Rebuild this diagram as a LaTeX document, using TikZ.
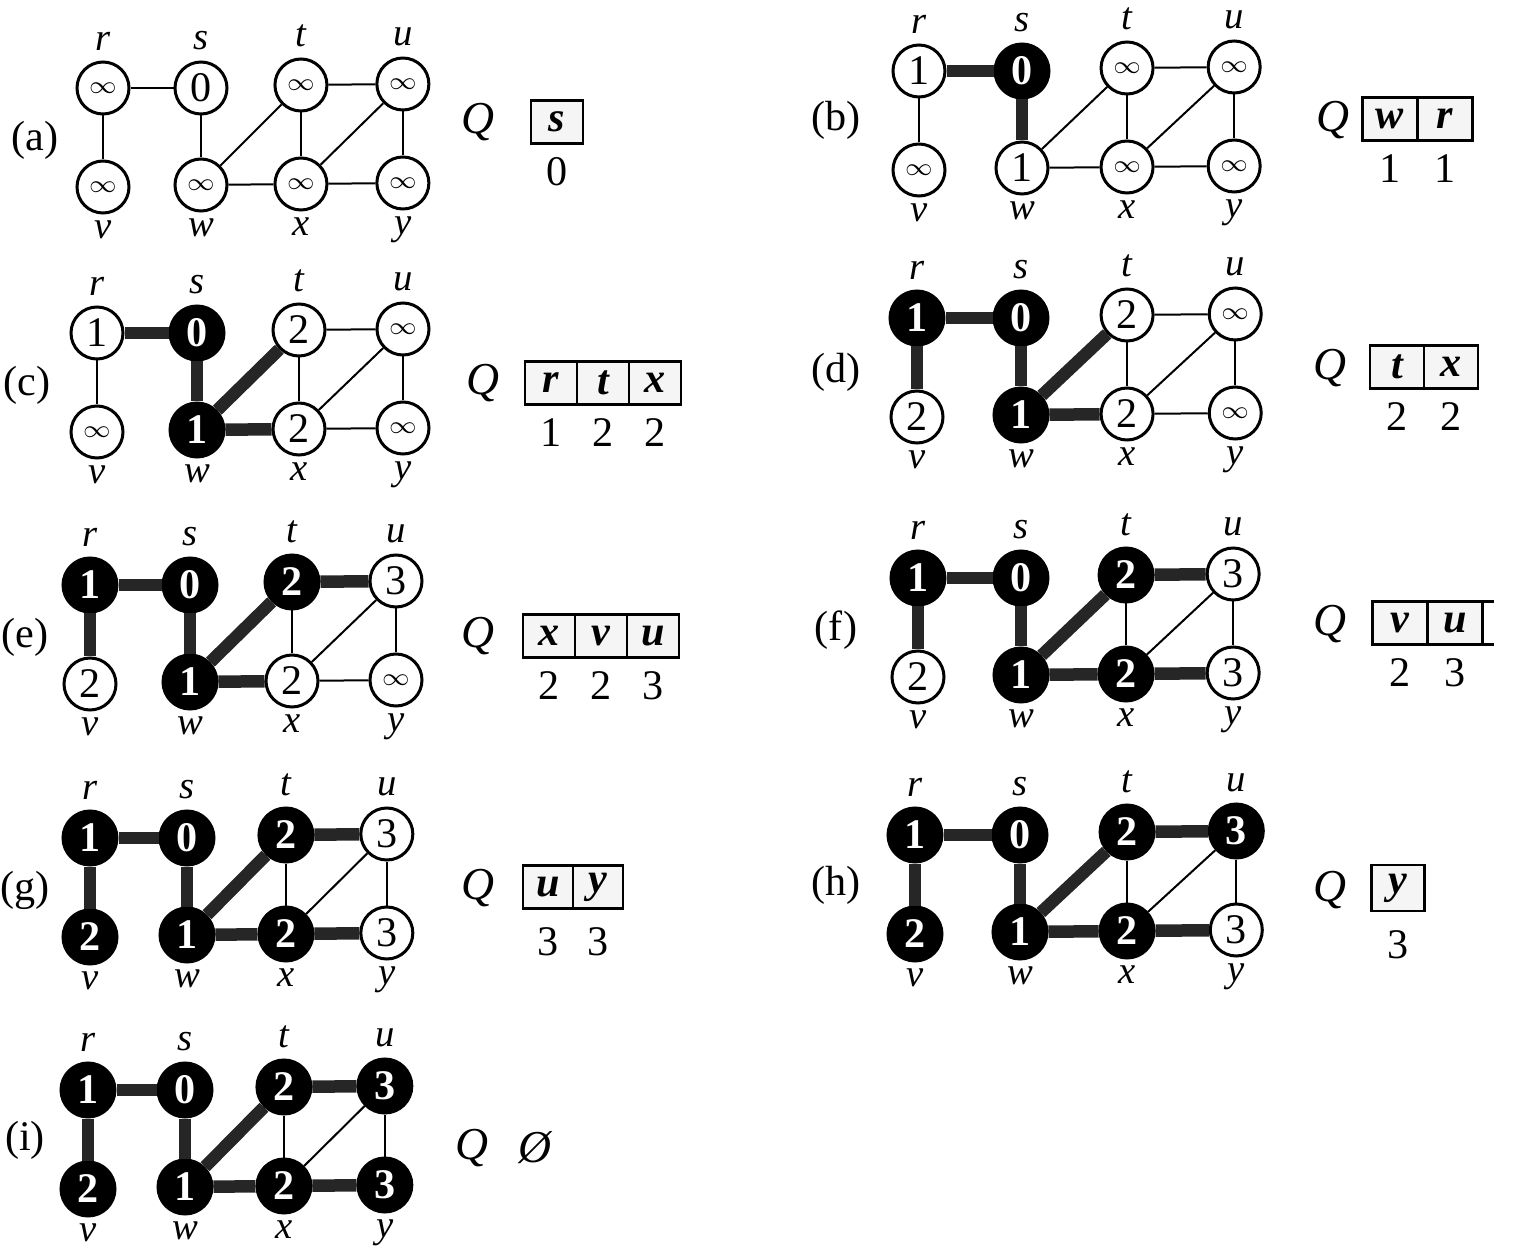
\documentclass[tikz,border=0pt]{standalone}
\usepackage{fontspec}
\setmainfont{Liberation Serif}
\usetikzlibrary{positioning}

\tikzset{
  vtx/.style={circle,draw,line width=0.3mm,minimum size=5.2mm,inner sep=0pt,
    font=\fontsize{12}{12}\selectfont},
  wv/.style={vtx,fill=white},
  bv/.style={vtx,fill=black,text=white,line width=0.5mm,font=\fontsize{12}{12}\selectfont\bfseries},
  edge/.style={line width=0.2mm},
  tree/.style={line width=1.25mm,black!85},
  lbl/.style={font=\fontsize{11}{11}\selectfont\itshape,inner sep=1pt},
  qcell/.style={draw,line width=0.25mm,fill=gray!8,minimum width=5.2mm,minimum height=4.3mm,
    inner sep=0pt,outer sep=0pt,font=\fontsize{12}{12}\selectfont\bfseries\itshape},
  qdist/.style={font=\fontsize{12}{12}\selectfont,inner sep=1pt},
  tag/.style={font=\fontsize{12}{12}\selectfont}
}
\newcommand{\inft}{\makebox[0pt]{\fontsize{7.5}{7.5}\selectfont$\infty$}}

% #1 panel prefix, #2 position of r, #3 xscale, #4 vertex list name/style/d
\newcommand{\bfsgraph}[4]{%
  \begin{scope}[shift={#2},xscale=#3]
    \foreach \n/\px/\py in {r/0/0,s/100/0,t/202/-3,u/306/-4,v/0/99,w/100/97,x/202/96,y/306/95}
      \coordinate (#1\n0) at (\px,\py);
  \end{scope}
  \foreach \n/\st/\d in {#4}
    \node[\st] (#1\n) at (#1\n0) {\d};
  \foreach \n in {r,s,t,u}
    \node[lbl,above=0.6mm of #1\n] (#1\n l) {\n};
  \foreach \n in {v,w,x,y}
    \node[lbl,below=0.2mm of #1\n] (#1\n l) {\n};
  \foreach \a/\b in {r/s,r/v,s/w,w/t,w/x,t/x,t/u,x/u,x/y,u/y}
    \draw[edge] (#1\a) -- (#1\b);
}

\begin{document}
\begin{tikzpicture}[x=0.1mm,y=-0.1mm]
  \useasboundingbox (0,0) rectangle (1513,1252);

  % (a)
  \node[tag] (atag) at (35,140) {(a)};
  \bfsgraph{a}{(103,88)}{0.98}{r/wv/\inft,s/wv/0,t/wv/\inft,u/wv/\inft,
    v/wv/\inft,w/wv/\inft,x/wv/\inft,y/wv/\inft}
  \node[lbl,font=\fontsize{13}{13}\selectfont\itshape] (aQ) at (478,122) {Q};
  \node[qcell] (aq1) at (557,122) {s};
  \node[qdist,below=1mm of aq1] {0};

  % (b)
  \node[tag] (btag) at (836,120) {(b)};
  \bfsgraph{b}{(919,71)}{1.03}{r/wv/1,s/bv/0,t/wv/\inft,u/wv/\inft,
    v/wv/\inft,w/wv/1,x/wv/\inft,y/wv/\inft}
  \foreach \a/\b in {r/s,s/w} \draw[tree] (b\a) -- (b\b);
  \node[lbl,font=\fontsize{13}{13}\selectfont\itshape] (bQ) at (1333,120) {Q};
  \node[qcell,minimum width=5.5mm] (bq1) at (1390,119) {w};
  \node[qcell,minimum width=5.5mm,right=0pt of bq1] (bq2) {r};
  \node[qdist,below=1mm of bq1] {1};
  \node[qdist,below=1mm of bq2] {1};

  % (c)
  \node[tag] (ctag) at (27,385) {(c)};
  \bfsgraph{c}{(97,333)}{1.0}{r/wv/1,s/bv/0,t/wv/2,u/wv/\inft,
    v/wv/\inft,w/bv/1,x/wv/2,y/wv/\inft}
  \foreach \a/\b in {r/s,s/w,w/t,w/x} \draw[tree] (c\a) -- (c\b);
  \node[lbl,font=\fontsize{13}{13}\selectfont\itshape] (cQ) at (483,383) {Q};
  \node[qcell] (cq1) at (551,383) {r};
  \node[qcell,right=0pt of cq1] (cq2) {t};
  \node[qcell,right=0pt of cq2] (cq3) {x};
  \node[qdist,below=1mm of cq1] {1};
  \node[qdist,below=1mm of cq2] {2};
  \node[qdist,below=1mm of cq3] {2};

  % (d)
  \node[tag] (dtag) at (836,372) {(d)};
  \bfsgraph{d}{(917,318)}{1.04}{r/bv/1,s/bv/0,t/wv/2,u/wv/\inft,
    v/wv/2,w/bv/1,x/wv/2,y/wv/\inft}
  \foreach \a/\b in {r/s,s/w,w/t,w/x,r/v} \draw[tree] (d\a) -- (d\b);
  \node[lbl,font=\fontsize{13}{13}\selectfont\itshape] (dQ) at (1330,368) {Q};
  \node[qcell,minimum width=5.4mm] (dq1) at (1397,367) {t};
  \node[qcell,minimum width=5.4mm,right=0pt of dq1] (dq2) {x};
  \node[qdist,below=1mm of dq1] {2};
  \node[qdist,below=1mm of dq2] {2};

  % (e)
  \node[tag] (etag) at (25,637) {(e)};
  \bfsgraph{e}{(90,585)}{1.0}{r/bv/1,s/bv/0,t/bv/2,u/wv/3,
    v/wv/2,w/bv/1,x/wv/2,y/wv/\inft}
  \foreach \a/\b in {r/s,s/w,w/t,w/x,r/v,t/u} \draw[tree] (e\a) -- (e\b);
  \node[lbl,font=\fontsize{13}{13}\selectfont\itshape] (eQ) at (478,636) {Q};
  \node[qcell] (eq1) at (549,636) {x};
  \node[qcell,right=0pt of eq1] (eq2) {v};
  \node[qcell,right=0pt of eq2] (eq3) {u};
  \node[qdist,below=1mm of eq1] {2};
  \node[qdist,below=1mm of eq2] {2};
  \node[qdist,below=1mm of eq3] {3};

  % (f)
  \node[tag] (ftag) at (836,630) {(f)};
  \bfsgraph{f}{(918,578)}{1.03}{r/bv/1,s/bv/0,t/bv/2,u/wv/3,
    v/wv/2,w/bv/1,x/bv/2,y/wv/3}
  \foreach \a/\b in {r/s,s/w,w/t,w/x,r/v,t/u,x/y} \draw[tree] (f\a) -- (f\b);
  \node[lbl,font=\fontsize{13}{13}\selectfont\itshape] (fQ) at (1330,624) {Q};
  \node[qcell,minimum width=5.5mm] (fq1) at (1400,623) {v};
  \node[qcell,minimum width=5.5mm,right=0pt of fq1] (fq2) {u};
  \draw[line width=0.25mm] (fq2.north east) -- ++(11,0) (fq2.south east) -- ++(11,0);
  \node[qdist,below=1mm of fq1] {2};
  \node[qdist,below=1mm of fq2] {3};

  % (g)
  \node[tag] (gtag) at (25,890) {(g)};
  \bfsgraph{g}{(90,838)}{0.97}{r/bv/1,s/bv/0,t/bv/2,u/wv/3,
    v/bv/2,w/bv/1,x/bv/2,y/wv/3}
  \foreach \a/\b in {r/s,s/w,w/t,w/x,r/v,t/u,x/y} \draw[tree] (g\a) -- (g\b);
  \node[lbl,font=\fontsize{13}{13}\selectfont\itshape] (gQ) at (478,888) {Q};
  \node[qcell,minimum width=5mm] (gq1) at (548,887) {u};
  \node[qcell,minimum width=5mm,right=0pt of gq1] (gq2) {y};
  \node[qdist,below=1.5mm of gq1] {3};
  \node[qdist,below=1.5mm of gq2] {3};

  % (h)
  \node[tag] (htag) at (836,885) {(h)};
  \bfsgraph{h}{(915,835)}{1.05}{r/bv/1,s/bv/0,t/bv/2,u/bv/3,
    v/bv/2,w/bv/1,x/bv/2,y/wv/3}
  \foreach \a/\b in {r/s,s/w,w/t,w/x,r/v,t/u,x/y} \draw[tree] (h\a) -- (h\b);
  \node[lbl,font=\fontsize{13}{13}\selectfont\itshape] (hQ) at (1330,890) {Q};
  \node[qcell,minimum width=5.3mm,minimum height=4.6mm] (hq1) at (1398,888) {y};
  \node[qdist,below=1.5mm of hq1] {3};

  % (i)
  \node[tag] (itag) at (25,1140) {(i)};
  \bfsgraph{i}{(88,1090)}{0.97}{r/bv/1,s/bv/0,t/bv/2,u/bv/3,
    v/bv/2,w/bv/1,x/bv/2,y/bv/3}
  \foreach \a/\b in {r/s,s/w,w/t,w/x,r/v,t/u,x/y} \draw[tree] (i\a) -- (i\b);
  \node[lbl,font=\fontsize{13}{13}\selectfont\itshape] (iQ) at (472,1148) {Q};
  \node[qdist,font=\fontsize{13}{13}\selectfont\itshape] (iq) at (535,1148) {\O};
\end{tikzpicture}
\end{document}
